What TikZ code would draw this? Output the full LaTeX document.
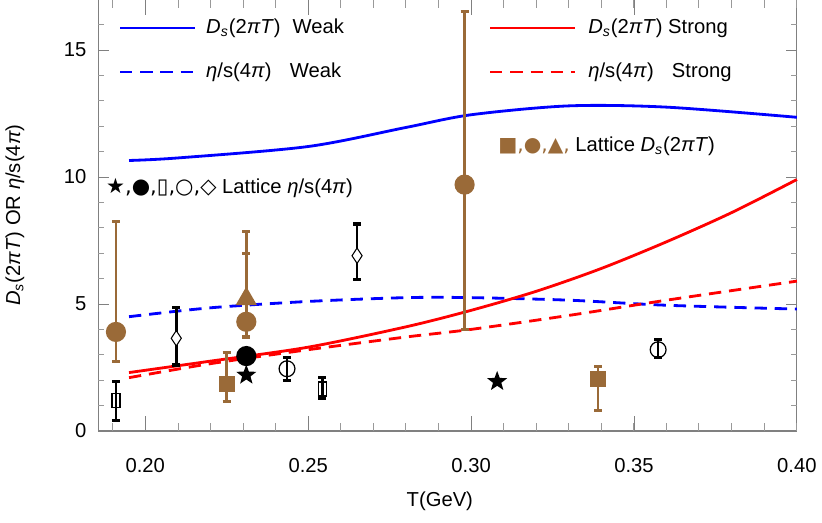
\documentclass[tikz,border=0pt]{standalone}
\usepackage{fontspec}
\setmainfont{Liberation Sans}
\newfontfamily\symfont{DejaVu Sans}
\usetikzlibrary{shapes.geometric}
\definecolor{lat}{HTML}{9A6A38}
\newcommand{\ebar}[4]{\draw[errbar,#4] (#1,#2) -- (#1,#3);
  \draw[errcap,#4] ([xshift=-2.3pt]#1,#2) -- ([xshift=2.3pt]#1,#2);
  \draw[errcap,#4] ([xshift=-2.3pt]#1,#3) -- ([xshift=2.3pt]#1,#3);}
\newcommand{\Ds}{\textit{D\textsubscript{s}}(2\textit{πT})}
\begin{document}
\begin{tikzpicture}
\tikzset{errbar/.style = {line width=1.5pt}}
\tikzset{errcap/.style = {line width=1.8pt}}
\tikzset{ptc/.style = {circle,inner sep=0pt,minimum size=11.5pt}}
\tikzset{pts/.style = {rectangle,inner sep=0pt,minimum size=9pt}}
\tikzset{ptt/.style = {regular polygon,regular polygon sides=3,inner sep=0pt,minimum size=14pt}}
\tikzset{ptd/.style = {diamond,draw,fill=white,inner sep=0pt,minimum width=6pt,minimum height=9pt,line width=0.6pt}}
\tikzset{ptq/.style = {rectangle,draw,fill=white,inner sep=0pt,minimum width=4.5pt,minimum height=8pt,line width=0.7pt}}
\tikzset{pto/.style = {circle,draw,fill=white,inner sep=0pt,minimum size=9pt,line width=0.7pt}}
\tikzset{ptstar/.style = {star,star points=5,star point ratio=2.4,fill=black,inner sep=0pt,minimum size=12pt}}
\tikzset{curve/.style = {line width=1.6pt,smooth}}
\tikzset{dashy/.style = {dash pattern=on 7pt off 4.5pt}}
\tikzset{lab/.style = {font=\fontsize{11.5}{13}\selectfont}}
\useasboundingbox (-2.906,-1.84) rectangle (13.534,8.62);
\begin{scope}[x=65.16cm,y=0.508cm,xshift=-13.032cm]
% frame and ticks
\draw[gray,line width=0.6pt] (0.1855,0) rectangle (0.4,16.97);
\foreach \t in {0.19,0.20,...,0.40} {
  \draw[gray!80] (\t,0) -- ++(0,0.3); \draw[gray!80] (\t,16.97) -- ++(0,-0.3);}
\foreach \t in {0.20,0.25,...,0.40} {
  \draw[gray] (\t,0) -- ++(0,0.6); \draw[gray] (\t,16.97) -- ++(0,-0.6);}
\foreach \v in {1,...,16} {
  \draw[gray!80] (0.1855,\v) -- ++(0.0017,0); \draw[gray!80] (0.4,\v) -- ++(-0.0017,0);}
\foreach \v in {0,5,10,15} {
  \draw[gray] (0.1855,\v) -- ++(0.0034,0); \draw[gray] (0.4,\v) -- ++(-0.0034,0);
  \node[lab,anchor=east] at (0.1838,\v) {\v};}
\foreach \t/\l in {0.20/0.20,0.25/0.25,0.30/0.30,0.35/0.35,0.40/0.40}
  \node[lab] at (\t,-1.35) {\l};
\node[lab] (xlab) at (0.2904,-2.75) {T(GeV)};
\node[lab,rotate=90] (ylab) at (0.1600,8.5) {\Ds{} OR \textit{η}/s(4\textit{π})};
% curves
\draw[curve,blue] plot coordinates {(0.195,10.65) (0.21,10.75) (0.25,11.2) (0.28,11.95) (0.30,12.45) (0.33,12.8) (0.36,12.75) (0.40,12.35)};
\draw[curve,blue,dashy] plot coordinates {(0.195,4.5) (0.22,4.85) (0.25,5.1) (0.28,5.25) (0.30,5.25) (0.33,5.15) (0.36,4.95) (0.40,4.8)};
\draw[curve,red] plot coordinates {(0.195,2.3) (0.22,2.75) (0.25,3.3) (0.28,4.1) (0.30,4.75) (0.32,5.5) (0.34,6.4) (0.36,7.45) (0.38,8.6) (0.40,9.9)};
\draw[curve,red,dashy] plot coordinates {(0.195,2.1) (0.22,2.65) (0.25,3.2) (0.28,3.7) (0.30,4.0) (0.33,4.55) (0.36,5.15) (0.40,5.9)};
% lattice Ds
\ebar{0.191}{2.75}{8.25}{lat}
\ebar{0.225}{1.15}{3.1}{lat}
\ebar{0.231}{3.7}{7.0}{lat}
\ebar{0.231}{5.2}{7.85}{lat}
\ebar{0.298}{4.0}{16.5}{lat}
\ebar{0.339}{0.8}{2.55}{lat}
\node[ptc,fill=lat] (c1) at (0.191,3.9) {};
\node[pts,fill=lat] (s1) at (0.225,1.85) {};
\node[ptt,fill=lat] (t1) at (0.231,5.2) {};
\node[ptc,fill=lat] (c2) at (0.231,4.3) {};
\node[ptc,fill=lat] (c3) at (0.298,9.7) {};
\node[pts,fill=lat] (s2) at (0.339,2.05) {};
% lattice eta/s
\ebar{0.2095}{2.6}{4.85}{black}
\ebar{0.265}{5.95}{8.15}{black}
\node[ptq] (q1) at (0.191,1.2) {};
\node[ptd] (d1) at (0.2095,3.65) {};
\node[ptstar] (st1) at (0.231,2.2) {};
\node[ptc,fill=black] (b1) at (0.231,2.95) {};
\node[pto] (o1) at (0.2435,2.45) {};
\node[ptq] (q2) at (0.2543,1.65) {};
\node[ptd] (d2) at (0.265,6.9) {};
\node[ptstar] (st2) at (0.308,1.95) {};
\node[pto] (o2) at (0.3574,3.2) {};
\ebar{0.2435}{2.0}{2.9}{black}
\ebar{0.3574}{2.9}{3.6}{black}
\ebar{0.191}{0.4}{1.95}{black}
\ebar{0.2543}{1.3}{2.1}{black}
\end{scope}
% legend
\begin{scope}[x=0.02cm,y=-0.02cm,yshift=8.62cm,xshift=-2.906cm]
\draw[line width=1.6pt,blue] (120,28) -- (195,28);
\node[lab,anchor=west] (lw1) at (200,28) {\Ds{}\hspace{0.6em}Weak};
\draw[line width=1.6pt,blue,dashy] (120,72) -- (195,72);
\node[lab,anchor=west] (lw2) at (200,72) {\textit{η}/s(4\textit{π})\hspace{0.9em}Weak};
\draw[line width=1.6pt,red] (490,28) -- (575,28);
\node[lab,anchor=west] (ls1) at (582,28) {\Ds{} Strong};
\draw[line width=1.6pt,red,dashy] (490,72) -- (575,72);
\node[lab,anchor=west] (ls2) at (582,72) {\textit{η}/s(4\textit{π})\hspace{0.9em}Strong};
\node[lab,anchor=west] (lat1) at (492,146) {\textcolor{lat}{\symfont ■,●,▲,} Lattice \Ds};
\node[lab,anchor=west] (lat2) at (100,188) {{\symfont\large ★,●,▯,○,◇} Lattice \textit{η}/s(4\textit{π})};
\end{scope}
\end{tikzpicture}
\end{document}
